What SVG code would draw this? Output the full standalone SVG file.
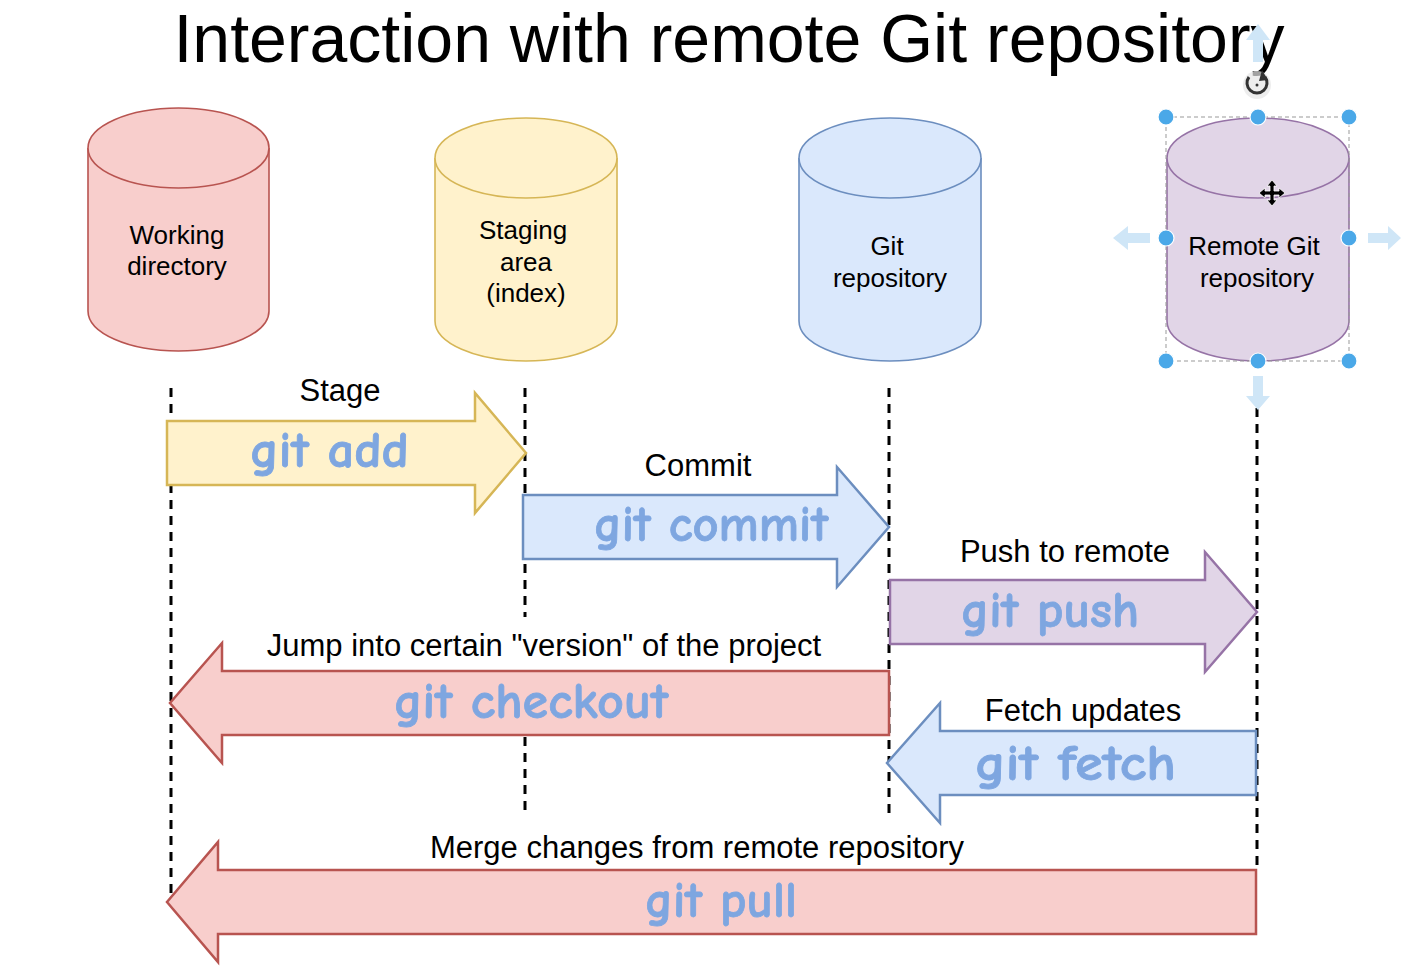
<svg xmlns="http://www.w3.org/2000/svg" width="1422" height="971" viewBox="0 0 1422 971">
<style>
.lbl{font-family:"Liberation Sans",Arial,sans-serif;fill:#000;text-anchor:middle}
.node{font-size:26px}
.step{font-size:31px}
.cmd{font-family:"Comic Sans MS","Comic Neue","DejaVu Sans",sans-serif;font-weight:bold;font-size:50px;fill:#7ea6e0;stroke:#7ea6e0;stroke-width:0.8}
.life{stroke:#000;stroke-width:3;stroke-dasharray:9 7;fill:none}
.red{fill:#f8cecc;stroke:#b85450;stroke-width:2.5}
.yel{fill:#fff2cc;stroke:#d6b656;stroke-width:2.5}
.blu{fill:#dae8fc;stroke:#6c8ebf;stroke-width:2.5}
.pur{fill:#e1d5e7;stroke:#9673a6;stroke-width:2.5}
.cyl{stroke-width:1.6}
.handle{fill:#4aa8e8;stroke:#fff;stroke-width:1.2}
.hint{fill:#cfe6f7}
</style>
<rect width="1422" height="971" fill="#fff"/>
<text class="lbl" x="729" y="62" font-size="68">Interaction with remote Git repository</text>

<g id="connectors">
<line class="life" x1="171" y1="388" x2="171" y2="900"/>
<line class="life" x1="525" y1="388" x2="525" y2="617"/>
<line class="life" x1="525" y1="737" x2="525" y2="815"/>
<line class="life" x1="889" y1="388" x2="889" y2="815"/>
<line class="life" x1="1257" y1="376" x2="1257" y2="872"/>
</g>

<g id="working-directory">
<path class="red cyl" d="M88,148 A90.5,40 0 0 1 269,148 L269,311 A90.5,40 0 0 1 88,311 Z"/>
<path class="red cyl" fill="none" d="M88,148 A90.5,40 0 0 0 269,148"/>
<text class="lbl node" x="177" y="244">Working</text>
<text class="lbl node" x="177" y="275">directory</text>
</g>
<g id="staging-area">
<path class="yel cyl" d="M435,158 A91,40 0 0 1 617,158 L617,321 A91,40 0 0 1 435,321 Z"/>
<path class="yel cyl" fill="none" d="M435,158 A91,40 0 0 0 617,158"/>
<text class="lbl node" x="523" y="239">Staging</text>
<text class="lbl node" x="526" y="271">area</text>
<text class="lbl node" x="526" y="302">(index)</text>
</g>
<g id="git-repository">
<path class="blu cyl" d="M799,158 A91,40 0 0 1 981,158 L981,321 A91,40 0 0 1 799,321 Z"/>
<path class="blu cyl" fill="none" d="M799,158 A91,40 0 0 0 981,158"/>
<text class="lbl node" x="887" y="255">Git</text>
<text class="lbl node" x="890" y="287">repository</text>
</g>
<g id="remote-git-repository">
<path class="pur cyl" d="M1167,158 A91,40 0 0 1 1349,158 L1349,321 A91,40 0 0 1 1167,321 Z"/>
<path class="pur cyl" fill="none" d="M1167,158 A91,40 0 0 0 1349,158"/>
<text class="lbl node" x="1254" y="255">Remote Git</text>
<text class="lbl node" x="1257" y="287">repository</text>
</g>

<g id="selection">
<path class="hint" d="M1253,62 L1253,40 L1246,40 L1258,24 L1270,40 L1263,40 L1263,62 Z"/>
<path class="hint" d="M1150,233 L1128,233 L1128,226 L1113,238 L1128,250 L1128,243 L1150,243 Z"/>
<path class="hint" d="M1368,233 L1388,233 L1388,226 L1401,238 L1388,250 L1388,243 L1368,243 Z"/>
<path class="hint" d="M1253,376 L1253,396 L1246,396 L1258,410 L1270,396 L1263,396 L1263,376 Z"/>
<rect x="1166" y="117" width="183" height="244" fill="none" stroke="#999" stroke-width="1" stroke-dasharray="4 3"/>
<circle class="handle" cx="1166" cy="117" r="8"/>
<circle class="handle" cx="1258" cy="117" r="8"/>
<circle class="handle" cx="1349" cy="117" r="8"/>
<circle class="handle" cx="1166" cy="238" r="8"/>
<circle class="handle" cx="1349" cy="238" r="8"/>
<circle class="handle" cx="1166" cy="361" r="8"/>
<circle class="handle" cx="1258" cy="361" r="8"/>
<circle class="handle" cx="1349" cy="361" r="8"/>
<circle cx="1257" cy="85" r="14" fill="#e6e6e6" opacity="0.7"/>
<path d="M1265,77 A10,10 0 1 1 1249,77" fill="none" stroke="#333" stroke-width="3"/>
<path d="M1262,70 L1268,80 L1259,81 Z" fill="#333"/>
<circle cx="1257" cy="85" r="1.5" fill="#333"/>
<path d="M1272,180 L1277,186 L1274,186 L1274,191 L1279,191 L1279,188 L1285,193 L1279,198 L1279,195 L1274,195 L1274,200 L1277,200 L1272,206 L1267,200 L1270,200 L1270,195 L1265,195 L1265,198 L1259,193 L1265,188 L1265,191 L1270,191 L1270,186 L1267,186 Z" fill="#000" stroke="#fff" stroke-width="0.8"/>
</g>

<g id="git-add">
<path class="yel" d="M167,421 L475,421 L475,393 L526,453 L475,513 L475,485 L167,485 Z"/>
<text class="lbl step" x="340" y="401">Stage</text>
<text class="cmd" x="250" y="467" textLength="159" lengthAdjust="spacingAndGlyphs">git add</text>
</g>
<g id="git-commit">
<path class="blu" d="M523,495 L837,495 L837,467 L889,527 L837,587 L837,559 L523,559 Z"/>
<text class="lbl step" x="698" y="476">Commit</text>
<text class="cmd" x="594" y="541" textLength="234" lengthAdjust="spacingAndGlyphs">git commit</text>
</g>
<g id="git-push">
<path class="pur" d="M890,580 L1205,580 L1205,552 L1257,612 L1205,672 L1205,644 L890,644 Z"/>
<text class="lbl step" x="1065" y="562">Push to remote</text>
<text class="cmd" x="961" y="627" textLength="178" lengthAdjust="spacingAndGlyphs">git push</text>
</g>
<g id="git-checkout">
<path class="red" d="M889,671 L222,671 L222,643 L170,703 L222,763 L222,735 L889,735 Z"/>
<text class="lbl step" x="544" y="656">Jump into certain "version" of the project</text>
<text class="cmd" x="394" y="718" textLength="274" lengthAdjust="spacingAndGlyphs">git checkout</text>
</g>
<g id="git-fetch">
<path class="blu" d="M1256,731 L940,731 L940,703 L887,763 L940,823 L940,795 L1256,795 Z"/>
<text class="lbl step" x="1083" y="721">Fetch updates</text>
<text class="cmd" x="975" y="780" textLength="201" lengthAdjust="spacingAndGlyphs">git fetch</text>
</g>
<g id="git-pull">
<path class="red" d="M1256,870 L218,870 L218,842 L167,902 L218,962 L218,934 L1256,934 Z"/>
<text class="lbl step" x="697" y="858">Merge changes from remote repository</text>
<text class="cmd" x="645" y="917" textLength="152" lengthAdjust="spacingAndGlyphs">git pull</text>
</g>
</svg>
